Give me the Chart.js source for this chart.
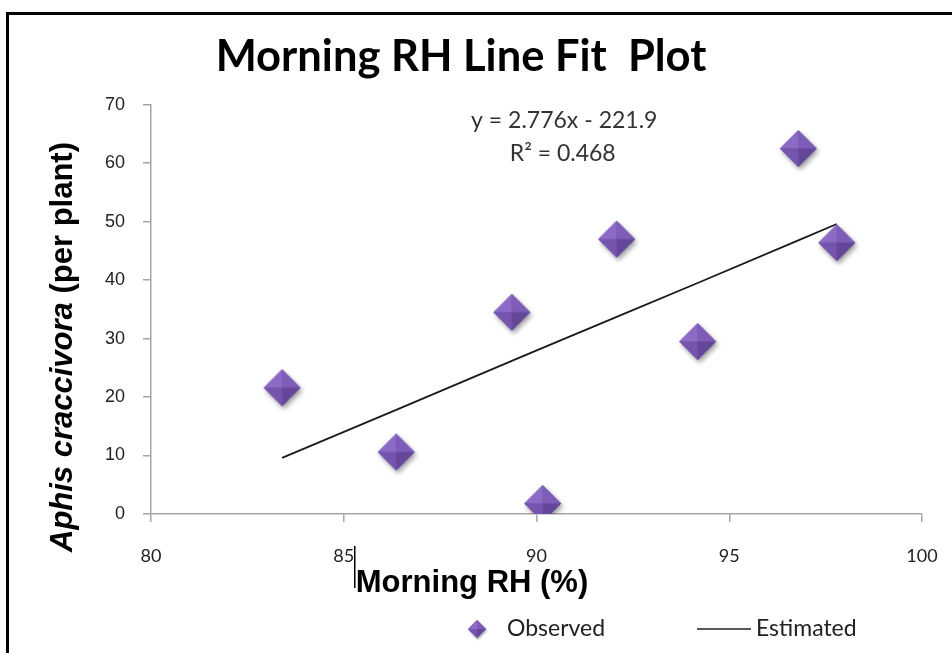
<!DOCTYPE html>
<html>
<head>
<meta charset="utf-8">
<script src="https://cdn.jsdelivr.net/npm/chart.js@4.4.1/dist/chart.umd.min.js"></script>
<style>
html,body{margin:0;padding:0;background:#fff;}
#wrap{width:952px;height:653px;position:relative;}
</style>
</head>
<body>
<div id="wrap"><canvas id="c" width="952" height="653"></canvas></div>
<script>
// ---- data ----
const rhValues = [83.40, 86.36, 89.36, 90.16, 92.08, 94.18, 96.79, 97.79];
const observedValues = [21.6, 10.6, 34.5, 1.8, 47.0, 29.5, 62.5, 46.4];
const estimatedValues = [9.6, 17.8, 26.2, 28.4, 33.7, 39.5, 46.8, 49.6];
const xTicks = [80, 85, 90, 95, 100];
const yTicks = [0, 10, 20, 30, 40, 50, 60, 70];
const seriesNames = ['Observed', 'Estimated'];
const titleText = 'Morning RH Line Fit  Plot';
const xTitle = 'Morning RH (%)';
const yTitleItalic = 'Aphis craccivora';
const yTitleRest = ' (per plant)';
const equationLines = ['y = 2.776x - 221.9', 'R\u00B2 = 0.468'];

// ---- 3D diamond marker image ----
function makeDiamond(r, shadow) {
  const pad = Math.ceil(r * 0.4) + 2;
  const size = Math.ceil(2 * (r + pad));
  const c = document.createElement('canvas');
  c.width = size; c.height = size;
  const g = c.getContext('2d');
  const cx = size / 2, cy = size / 2;
  const T = [cx, cy - r], R = [cx + r, cy], B = [cx, cy + r], L = [cx - r, cy], C = [cx, cy];
  function poly(pts) { g.beginPath(); g.moveTo(pts[0][0], pts[0][1]); for (let i = 1; i < pts.length; i++) g.lineTo(pts[i][0], pts[i][1]); g.closePath(); }
  if (shadow) {
    g.save();
    g.shadowColor = 'rgba(0,0,0,0.38)';
    g.shadowBlur = r * 0.3;
    g.shadowOffsetX = r * 0.1;
    g.shadowOffsetY = r * 0.16;
    g.fillStyle = '#7658AE';
    poly([T, R, B, L]); g.fill();
    g.restore();
  }
  g.fillStyle = '#8B6BC5'; poly([T, L, C]); g.fill();
  g.fillStyle = '#7D5DB8'; poly([T, R, C]); g.fill();
  g.fillStyle = '#7454AD'; poly([L, B, C]); g.fill();
  g.fillStyle = '#64479A'; poly([R, B, C]); g.fill();
  return c;
}
const bigDiamond = makeDiamond(18.5, true);
const smallDiamond = makeDiamond(9, true);

// ---- decoration plugin ----
const decor = {
  id: 'decor',
  beforeDraw(chart) {
    const ctx = chart.ctx;
    ctx.save();
    ctx.fillStyle = '#ffffff';
    ctx.fillRect(0, 0, chart.width, chart.height);
    ctx.fillStyle = '#000000';
    ctx.fillRect(6, 12, chart.width - 6, 3);
    ctx.fillRect(6, 12, 3, chart.height - 12);
    ctx.restore();
  },
  afterDraw(chart) {
    const ctx = chart.ctx;
    const xs = chart.scales.x, ys = chart.scales.y;
    ctx.save();
    // y axis title (mixed italic)
    ctx.translate(63, 347);
    ctx.rotate(-Math.PI / 2);
    ctx.textBaseline = 'middle';
    ctx.fillStyle = '#000';
    const fItal = 'italic bold 31px "Liberation Sans", Arial, sans-serif';
    const fBold = 'bold 31px "Liberation Sans", Arial, sans-serif';
    ctx.font = fItal; const w1 = ctx.measureText(yTitleItalic).width;
    ctx.font = fBold; const w2 = ctx.measureText(yTitleRest).width;
    const start = -(w1 + w2) / 2;
    ctx.textAlign = 'left';
    ctx.font = fItal; ctx.fillText(yTitleItalic, start, 0);
    ctx.font = fBold; ctx.fillText(yTitleRest, start + w1, 0);
    ctx.restore();

    ctx.save();
    // x axis title
    ctx.font = 'bold 31px "Liberation Sans", Arial, sans-serif';
    ctx.fillStyle = '#000';
    ctx.textAlign = 'center';
    ctx.textBaseline = 'middle';
    ctx.fillText(xTitle, 472, 583);
    // stray cursor mark
    ctx.fillRect(354, 546, 1.5, 42);
    // equation
    ctx.font = '23px Lato, sans-serif';
    ctx.fillStyle = '#333';
    ctx.fillText(equationLines[0], xs.getPixelForValue(90.72), ys.getPixelForValue(67.3));
    ctx.fillText(equationLines[1], xs.getPixelForValue(90.68), ys.getPixelForValue(61.6));
    // legend
    const ly = 629;
    ctx.drawImage(smallDiamond, 477 - smallDiamond.width / 2, ly - smallDiamond.height / 2);
    ctx.font = '23px Lato, sans-serif';
    ctx.fillStyle = '#222';
    ctx.textAlign = 'left';
    ctx.fillText(seriesNames[0], 507, ly);
    ctx.strokeStyle = '#222';
    ctx.lineWidth = 1.5;
    ctx.beginPath(); ctx.moveTo(697, ly); ctx.lineTo(751, ly); ctx.stroke();
    ctx.fillText(seriesNames[1], 756, ly);
    ctx.restore();
  }
};

const observedPoints = rhValues.map((x, i) => ({ x: x, y: observedValues[i] }));
const estimatedPoints = rhValues.map((x, i) => ({ x: x, y: estimatedValues[i] }));

new Chart(document.getElementById('c'), {
  type: 'scatter',
  data: {
    datasets: [
      {
        label: seriesNames[0],
        data: observedPoints,
        pointStyle: bigDiamond,
        pointRadius: 18.5,
        pointHoverRadius: 18.5,
        order: 0
      },
      {
        label: seriesNames[1],
        data: estimatedPoints,
        showLine: true,
        borderColor: '#1a1a1a',
        borderWidth: 1.8,
        pointRadius: 0,
        pointHoverRadius: 0,
        fill: false,
        order: 1
      }
    ]
  },
  options: {
    responsive: false,
    animation: false,
    devicePixelRatio: 1,
    layout: { padding: { left: 0, right: 30, top: 0, bottom: 0 } },
    plugins: {
      legend: { display: false },
      tooltip: { enabled: false },
      title: {
        display: true,
        text: titleText,
        color: '#000',
        font: { family: 'Lato', size: 43.5, weight: 'bold', lineHeight: 1.2 },
        padding: { top: 31, bottom: 21.5 }
      }
    },
    scales: {
      x: {
        type: 'linear',
        min: 80, max: 100,
        afterBuildTicks: s => { s.ticks = xTicks.map(v => ({ value: v })); },
        afterFit: s => { s.height = 139; s.paddingLeft = 0; s.paddingRight = 0; },
        grid: { drawOnChartArea: false, drawTicks: true, tickLength: 8, color: '#A6A6A6', lineWidth: 1.5 },
        border: { color: '#A6A6A6', width: 1.5 },
        ticks: { font: { family: 'Lato', size: 18 }, color: '#222', padding: 23 }
      },
      y: {
        type: 'linear',
        min: 0, max: 70,
        afterBuildTicks: s => { s.ticks = yTicks.map(v => ({ value: v })); },
        afterFit: s => { s.width = 151; },
        grid: { drawOnChartArea: false, drawTicks: true, tickLength: 8, color: '#A6A6A6', lineWidth: 1.5 },
        border: { color: '#A6A6A6', width: 1.5 },
        ticks: { font: { family: '"Liberation Sans"', size: 18 }, color: '#222', padding: 18 }
      }
    }
  },
  plugins: [decor]
});
</script>
</body>
</html>
